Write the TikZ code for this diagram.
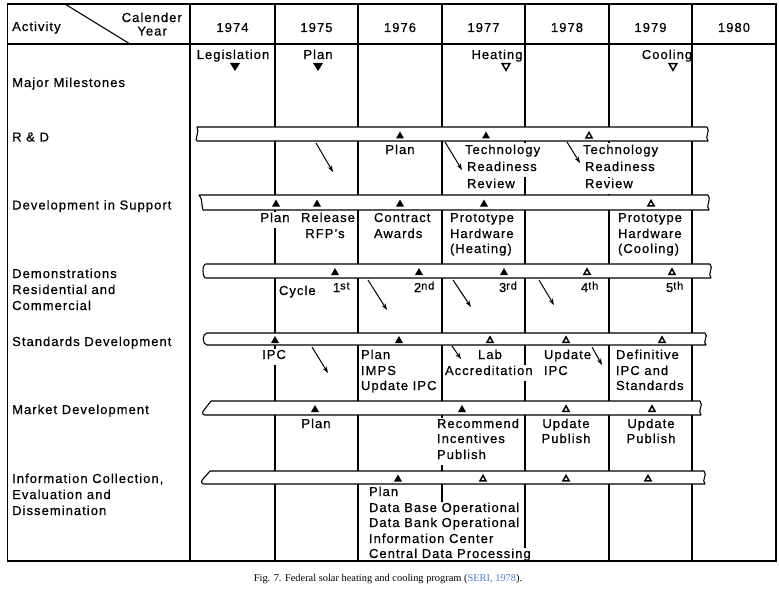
\documentclass[tikz,border=0pt]{standalone}
\usepackage{fontspec}
\setmainfont{Liberation Sans}[LetterSpace=8,FakeBold=0.6]
\newfontfamily\capfont{Liberation Serif}
\usetikzlibrary{arrows.meta}
\definecolor{linkblue}{RGB}{70,130,200}
\tikzset{
  grid/.style={line width=1.1pt},
  barshape/.style={draw, fill=white, line width=1.1pt, line join=round},
  lab/.style={font=\fontsize{13}{15}\selectfont, inner sep=0pt, anchor=base west},
  txt/.style={font=\fontsize{13}{15}\selectfont, inner xsep=0.8pt, inner ysep=1pt, text height=9.5pt, text depth=5pt, fill=white, anchor=base west},
  ctxt/.style={txt, anchor=base},
  arr/.style={line width=1pt, -{Stealth[length=6.5pt,width=4.5pt]}},
}
\newcommand\mytriF[2]{\fill (#1-4,#2+3.5) -- (#1+4,#2+3.5) -- (#1,#2-3.5) -- cycle;}
\newcommand\mytriO[2]{\draw[line width=1.5pt, fill=white, line join=miter] (#1-3,#2+2.8) -- (#1+3,#2+2.8) -- (#1,#2-2.6) -- cycle;}
\newcommand\mydtriF[2]{\fill (#1-5,#2-4) -- (#1+5,#2-4) -- (#1,#2+4) -- cycle;}
\newcommand\mydtriO[2]{\draw[line width=1.5pt, fill=white, line join=miter] (#1-3.8,#2-3.3) -- (#1+3.8,#2-3.3) -- (#1,#2+3.3) -- cycle;}
\newcommand\sups[1]{\raisebox{2.5pt}{\fontsize{11}{11}\selectfont #1}}
\begin{document}
\begin{tikzpicture}[x=1pt,y=-1pt]
\useasboundingbox (0,0) rectangle (779,591);
% ---------- grid ----------
\draw[grid] (7.5,4) rectangle (776,561);
\draw[grid] (7.5,44) -- (776,44);
\foreach \x in {190,275,358,442,525,609,692} \draw[grid] (\x,4) -- (\x,561);
\draw[grid] (65,4) -- (130,44);
% ---------- header ----------
\node[lab] (hact) at (12,31) {Activity};
\node[lab, anchor=base east] (hcal) at (182,22) {Calender};
\node[lab, anchor=base east] (hyear) at (167,35.5) {Year};
\node[lab, anchor=base] (y74) at (232.5,32) {1974};
\node[lab, anchor=base] (y75) at (316.5,32) {1975};
\node[lab, anchor=base] (y76) at (400,32) {1976};
\node[lab, anchor=base] (y77) at (483.5,32) {1977};
\node[lab, anchor=base] (y78) at (567,32) {1978};
\node[lab, anchor=base] (y79) at (650.5,32) {1979};
\node[lab, anchor=base] (y80) at (734,32) {1980};
% ---------- activity labels ----------
\node[lab] (lmm) at (12,87) {Major Milestones};
\node[lab] (lrd) at (12,141.5) {R \& D};
\node[lab] (ldev) at (12,209.5) {Development in Support};
\node[lab] (ldem1) at (12,278) {Demonstrations};
\node[lab] (ldem2) at (12,294) {Residential and};
\node[lab] (ldem3) at (12,310) {Commercial};
\node[lab] (lstd) at (12,346) {Standards Development};
\node[lab] (lmkt) at (12,414) {Market Development};
\node[lab] (linf1) at (12,483) {Information Collection,};
\node[lab] (linf2) at (12,499) {Evaluation and};
\node[lab] (linf3) at (12,515) {Dissemination};
% ---------- major milestones ----------
\node[lab, anchor=base] (mleg) at (233,59) {Legislation};
\node[lab, anchor=base] (mplan) at (318,59) {Plan};
\node[lab, anchor=base] (mheat) at (497,59) {Heating};
\node[lab, anchor=base] (mcool) at (667,59) {Cooling};
\mydtriF{235}{67}
\mydtriF{318}{67}
\mydtriO{506}{67}
\mydtriO{673}{67}
% ---------- bars ----------
\path[barshape] (197,127) -- (707,127) .. controls (711,131) and (704,137) .. (708,141) -- (197,141) .. controls (194,141) and (200,131) .. (197,127) -- cycle;
\path[barshape] (199,195) -- (708,195) .. controls (712,199) and (705,206) .. (709,210) -- (203,210) .. controls (201,205) and (203,199) .. (199,195) -- cycle;
\path[barshape] (206,264) -- (710,264) .. controls (714,268) and (707,274) .. (711,278) -- (206,278) .. controls (202,278) and (202,264) .. (206,264) -- cycle;
\path[barshape] (207,333) -- (705,333) .. controls (709,336) and (702,342) .. (706,345) -- (207,345) .. controls (202,345) and (202,333) .. (207,333) -- cycle;
\path[barshape] (211,401) -- (700,401) .. controls (704,405) and (697,411) .. (701,415) -- (205,415) .. controls (202,415) and (202,412) .. (204,410) -- (211,401) -- cycle;
\path[barshape] (210,471) -- (704,471) .. controls (708,475) and (701,480) .. (705,484) -- (204,484) .. controls (201,484) and (201,481) .. (203,479) -- (210,471) -- cycle;
% ---------- triangles ----------
\mytriF{400}{135} \mytriF{486}{135} \mytriO{589}{135}
\mytriF{276}{203} \mytriF{317}{203} \mytriF{400}{203} \mytriF{484}{203} \mytriO{651}{203}
\mytriF{335}{271.5} \mytriF{419}{271.5} \mytriF{504}{271.5} \mytriO{587}{271.5} \mytriO{672}{271.5}
\mytriF{275}{339.5} \mytriF{399}{339.5} \mytriO{490}{339.5} \mytriO{566}{339.5} \mytriO{662}{339.5}
\mytriF{315}{408.5} \mytriF{462}{408.5} \mytriO{566}{408.5} \mytriO{652}{408.5}
\mytriF{398}{478} \mytriO{483}{478} \mytriO{566}{478} \mytriO{648}{478}
% ---------- R & D texts ----------
\node[ctxt] (rplan) at (400,154) {Plan};
\node[txt] (rt1a) at (464,154) {Technology};
\node[txt] (rt1b) at (466,171) {Readiness};
\node[txt] (rt1c) at (466,188) {Review};
\node[txt] (rt2a) at (582,154) {Technology};
\node[txt] (rt2b) at (584,171) {Readiness};
\node[txt] (rt2c) at (584,188) {Review};
% ---------- development texts ----------
\node[ctxt] (dplan) at (275,222) {Plan};
\node[ctxt] (drel) at (328,222) {Release};
\node[ctxt] (drfp) at (325,238) {RFP's};
\node[txt] (dcon) at (373,222) {Contract};
\node[txt] (dawd) at (373,238) {Awards};
\node[txt] (dph1) at (449,222) {Prototype};
\node[txt] (dph2) at (449,238) {Hardware};
\node[txt] (dph3) at (449,253) {(Heating)};
\node[txt] (dpc1) at (617,222) {Prototype};
\node[txt] (dpc2) at (617,238) {Hardware};
\node[txt] (dpc3) at (617,253) {(Cooling)};
% ---------- demonstrations texts ----------
\node[txt] (ecyc) at (278,295) {Cycle};
\node[txt] (e1) at (332,292) {1\sups{st}};
\node[txt] (e2) at (413,292) {2\sups{nd}};
\node[txt] (e3) at (498,292) {3\sups{rd}};
\node[txt] (e4) at (580,292) {4\sups{th}};
\node[txt] (e5) at (665,292) {5\sups{th}};
% ---------- standards texts ----------
\node[ctxt] (sipc) at (274,359) {IPC};
\node[txt] (sp1) at (360,359) {Plan};
\node[txt] (sp2) at (360,375) {IMPS};
\node[txt] (sp3) at (360,390) {Update IPC};
\node[ctxt] (slab) at (490,359) {Lab};
\node[txt] (sacc) at (444,375) {Accreditation};
\node[txt] (su1) at (543,359) {Update};
\node[txt] (su2) at (543,375) {IPC};
\node[txt] (sd1) at (615,359) {Definitive};
\node[txt] (sd2) at (615,375) {IPC and};
\node[txt] (sd3) at (615,390) {Standards};
% ---------- market texts ----------
\node[ctxt] (kplan) at (316,428) {Plan};
\node[txt] (kr1) at (436,428) {Recommend};
\node[txt] (kr2) at (436,443) {Incentives};
\node[txt] (kr3) at (436,459) {Publish};
\node[ctxt] (ku1) at (566,428) {Update};
\node[ctxt] (ku2) at (566,443) {Publish};
\node[ctxt] (kv1) at (651,428) {Update};
\node[ctxt] (kv2) at (651,443) {Publish};
% ---------- information texts ----------
\node[txt] (i1) at (368,496) {Plan};
\node[txt] (i2) at (368,512) {Data Base Operational};
\node[txt] (i3) at (368,527) {Data Bank Operational};
\node[txt] (i4) at (368,543) {Information Center};
\node[txt] (i5) at (368,558) {Central Data Processing};
\draw[grid] (7.5,561) -- (776,561);
% ---------- arrows ----------
\coordinate (a1s) at (316,143); \coordinate (a1e) at (333,172);
\coordinate (a2s) at (445,142); \coordinate (a2e) at (462,170);
\coordinate (a3s) at (567,142); \coordinate (a3e) at (580,163);
\coordinate (a4s) at (368,280); \coordinate (a4e) at (387,310);
\coordinate (a5s) at (453,280); \coordinate (a5e) at (471,307);
\coordinate (a6s) at (539,280); \coordinate (a6e) at (554,305);
\coordinate (a7s) at (312,347); \coordinate (a7e) at (328,373);
\coordinate (a8s) at (452,346); \coordinate (a8e) at (461,359);
\coordinate (a9s) at (592,347); \coordinate (a9e) at (602,365);
\foreach \i in {1,...,9} \draw[arr] (a\i s) -- (a\i e);
% ---------- caption ----------
\node[font=\capfont\fontsize{10.4}{12}\selectfont, anchor=base, inner sep=0pt] (cap) at (388,581) {Fig. 7. Federal solar heating and cooling program (\textcolor{linkblue}{SERI, 1978}).};
\end{tikzpicture}
\end{document}
